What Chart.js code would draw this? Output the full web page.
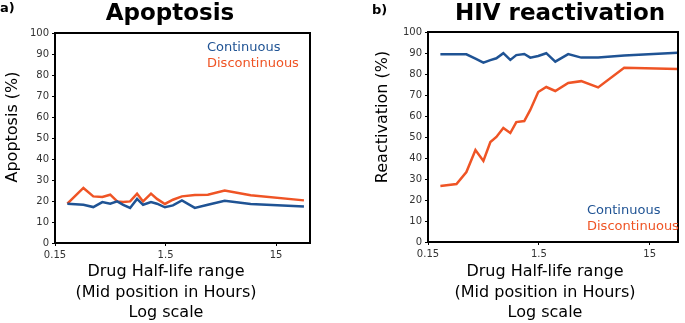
<!DOCTYPE html>
<html>
<head>
<meta charset="utf-8">
<title>Apoptosis / HIV reactivation</title>
<script src="https://cdn.jsdelivr.net/npm/chart.js@4/dist/chart.umd.min.js"></script>
<style>
  html, body { margin: 0; padding: 0; background: #fff; }
  #wrap { position: relative; width: 685px; height: 323px; overflow: hidden; }
  canvas { position: absolute; top: 0; }
  #cA { left: 0; }
  #cB { left: 345px; }
</style>
</head>
<body>
<div id="wrap">
  <canvas id="cA" width="345" height="323"></canvas>
  <canvas id="cB" width="340" height="323"></canvas>
</div>
<script>
// ------------------------------------------------------------
//  Data
// ------------------------------------------------------------
var halfLives = [0.194, 0.271, 0.333, 0.402, 0.474, 0.548, 0.621, 0.717, 0.829, 0.939,
                 1.108, 1.255, 1.48, 1.75, 2.11, 2.76, 3.62, 5.14, 8.83, 26.8];

var apoContinuous    = [18.7, 18.2, 17.1, 19.5, 18.7, 19.8, 18.2, 16.7, 21.0, 18.2,
                        19.5, 18.7, 17.0, 17.9, 20.3, 16.7, 18.2, 20.1, 18.6, 17.4];
var apoDiscontinuous = [18.7, 26.2, 22.2, 21.9, 23.0, 19.8, 19.5, 19.8, 23.5, 19.8,
                        23.5, 21.0, 18.6, 20.6, 22.2, 22.8, 23.0, 25.0, 22.7, 20.3];

var hivContinuous    = [89.4, 89.4, 89.4, 87.3, 85.4, 86.6, 87.5, 89.9, 86.7, 89.0,
                        89.5, 87.8, 88.6, 89.9, 85.9, 89.5, 87.8, 87.8, 88.8, 90.1];
var hivDiscontinuous = [26.7, 27.6, 33.3, 43.8, 38.6, 47.6, 50.0, 54.3, 51.9, 57.1,
                        57.6, 62.9, 71.4, 73.8, 71.9, 75.7, 76.6, 73.6, 83.0, 82.4];

var seriesNames = ['Continuous', 'Discontinuous'];
var xTickValues = [0.15, 1.5, 15];
var xTitleLines = ['Drug Half-life range', '(Mid position in Hours)', 'Log scale'];

// ------------------------------------------------------------
//  Style
// ------------------------------------------------------------
var BLUE   = '#1f5394';
var ORANGE = '#ef5425';
var FONT   = '"DejaVu Sans", sans-serif';

function points(ys) {
  return ys.map(function (y, i) { return { x: halfLives[i], y: y }; });
}

// text drawn on top of each chart (titles, axis titles, in-plot legend)
var textPlugin = {
  id: 'panelText',
  afterDraw: function (chart) {
    var t = chart.options.plugins.panelText;
    var ctx = chart.ctx;
    var a = chart.chartArea;
    ctx.save();

    // frame
    ctx.strokeStyle = '#000';
    ctx.lineWidth = 2;
    ctx.strokeRect(a.left, a.top, a.right - a.left, a.bottom - a.top);

    ctx.fillStyle = '#000';
    ctx.textBaseline = 'middle';

    // panel letter
    ctx.font = 'bold 13px ' + FONT;
    ctx.textAlign = 'left';
    ctx.fillText(t.letter, t.letterX, t.letterY);

    // title
    ctx.font = 'bold 23px ' + FONT;
    ctx.textAlign = 'center';
    ctx.textBaseline = 'alphabetic';
    ctx.fillText(t.title, t.titleX, 20);

    // y title
    ctx.textBaseline = 'middle';
    ctx.font = '16px ' + FONT;
    ctx.save();
    ctx.translate(t.yTitleX, t.yTitleY);
    ctx.rotate(-Math.PI / 2);
    ctx.fillText(t.yTitle, 0, 0);
    ctx.restore();

    // x title (3 lines)
    xTitleLines.forEach(function (line, i) {
      ctx.fillText(line, t.xTitleX, 272 + i * 20.5);
    });

    // legend text
    ctx.font = '13px ' + FONT;
    ctx.textAlign = 'left';
    ctx.fillStyle = BLUE;
    ctx.fillText(seriesNames[0], t.legX, t.legY);
    ctx.fillStyle = ORANGE;
    ctx.fillText(seriesNames[1], t.legX, t.legY + 15.5);

    ctx.restore();
  }
};

function makeChart(id, cont, disc, xMax, yWidth, xHeight, pad, text) {
  return new Chart(document.getElementById(id), {
    type: 'line',
    data: {
      datasets: [
        { label: seriesNames[0], data: points(cont), borderColor: BLUE },
        { label: seriesNames[1], data: points(disc), borderColor: ORANGE }
      ]
    },
    options: {
      responsive: false,
      animation: false,
      devicePixelRatio: 1,
      layout: { padding: pad },
      elements: {
        line: { borderWidth: 2.5, tension: 0, fill: false },
        point: { radius: 0, hoverRadius: 0 }
      },
      plugins: {
        legend: { display: false },
        tooltip: { enabled: false },
        panelText: text
      },
      scales: {
        x: {
          type: 'logarithmic',
          min: 0.15,
          max: xMax,
          afterBuildTicks: function (s) {
            s.ticks = xTickValues.map(function (v) { return { value: v }; });
          },
          afterFit: function (s) { s.height = xHeight; },
          grid: { display: true, drawOnChartArea: false, drawTicks: true, tickLength: 3, color: '#000', lineWidth: 1 },
          border: { display: false },
          ticks: {
            color: '#333',
            font: { family: FONT, size: 10 },
            padding: 3,
            maxRotation: 0,
            autoSkip: false,
            callback: function (v) { return String(v); }
          }
        },
        y: {
          min: 0,
          max: 100,
          afterFit: function (s) { s.width = yWidth; },
          grid: { display: true, drawOnChartArea: false, drawTicks: true, tickLength: 3, color: '#000', lineWidth: 1 },
          border: { display: false },
          ticks: {
            stepSize: 10,
            color: '#333',
            font: { family: FONT, size: 10 },
            padding: 3
          }
        }
      }
    },
    plugins: [textPlugin]
  });
}

makeChart('cA', apoContinuous, apoDiscontinuous, 30.4, 55, 80,
  { top: 33, right: 35, left: 0, bottom: 0 },
  { letter: 'a)', letterX: 0, letterY: 9, title: 'Apoptosis', titleX: 170,
    yTitle: 'Apoptosis (%)', yTitleX: 13, yTitleY: 127, xTitleX: 166,
    legX: 207, legY: 48 });

makeChart('cB', hivContinuous, hivDiscontinuous, 27.0, 83, 81,
  { top: 32, right: 7, left: 0, bottom: 0 },
  { letter: 'b)', letterX: 27, letterY: 11, title: 'HIV reactivation', titleX: 215,
    yTitle: 'Reactivation (%)', yTitleX: 38, yTitleY: 117, xTitleX: 200,
    legX: 242, legY: 211 });
</script>
</body>
</html>
